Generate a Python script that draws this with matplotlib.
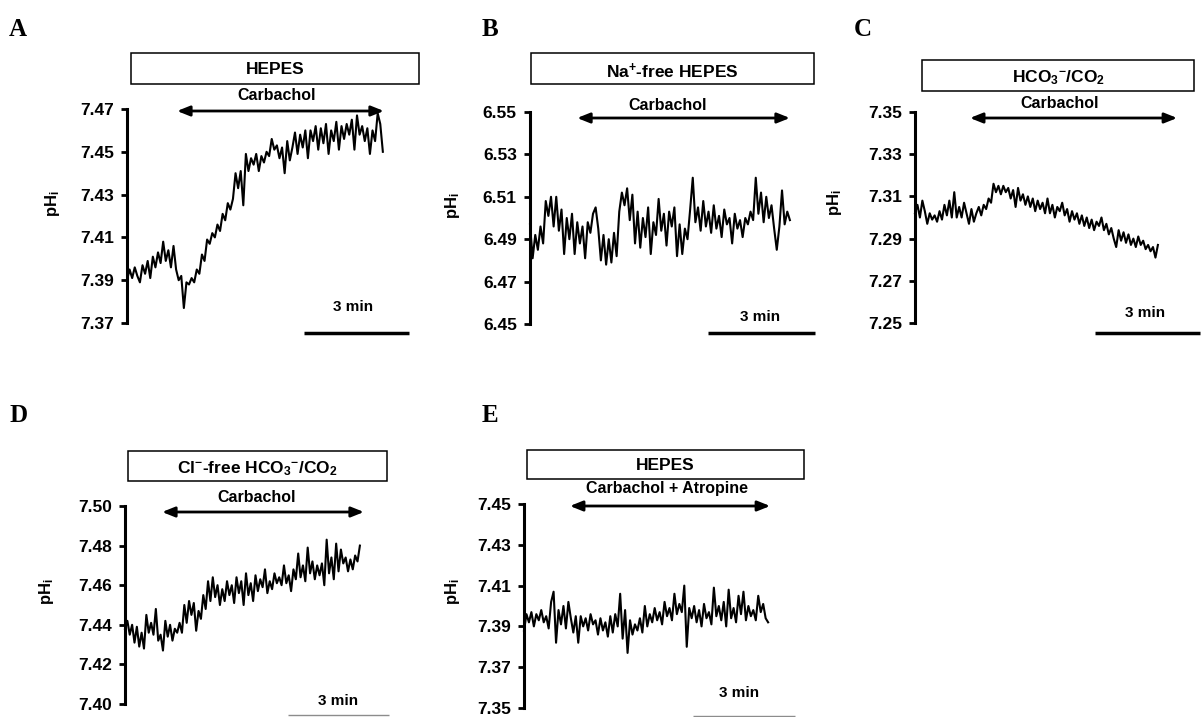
import numpy as np
import matplotlib
matplotlib.use("Agg")
import matplotlib.pyplot as plt
from matplotlib.patches import Rectangle
from matplotlib.transforms import blended_transform_factory

plt.rcParams['font.family'] = ['Liberation Sans', 'DejaVu Sans']
plt.rcParams['font.weight'] = 'bold'
plt.rcParams['mathtext.fontset'] = 'custom'
plt.rcParams['mathtext.rm'] = 'Liberation Sans:bold'
plt.rcParams['mathtext.it'] = 'Liberation Sans:bold'
plt.rcParams['mathtext.bf'] = 'Liberation Sans:bold'
plt.rcParams['mathtext.sf'] = 'Liberation Sans:bold'

# --- data (pHi traces, minutes) ---
letters = ['A', 'B', 'C', 'D', 'E']
solutions = ['HEPES', 'Na$^{+}$-free HEPES', 'HCO$_{3}$$^{-}$/CO$_{2}$',
             'Cl$^{-}$-free HCO$_{3}$$^{-}$/CO$_{2}$', 'HEPES']
treatments = ['Carbachol', 'Carbachol', 'Carbachol', 'Carbachol', 'Carbachol + Atropine']

ph_a = [7.390, 7.395, 7.391, 7.396, 7.392, 7.389, 7.397, 7.393, 7.399, 7.391,
        7.401, 7.396, 7.403, 7.398, 7.408, 7.399, 7.404, 7.396, 7.406, 7.395,
        7.390, 7.392, 7.377, 7.389, 7.388, 7.391, 7.389, 7.395, 7.393, 7.402,
        7.399, 7.409, 7.407, 7.412, 7.410, 7.416, 7.413, 7.421, 7.418, 7.426,
        7.423, 7.428, 7.440, 7.433, 7.441, 7.425, 7.449, 7.441, 7.447, 7.444,
        7.449, 7.441, 7.448, 7.445, 7.450, 7.448, 7.456, 7.451, 7.453, 7.447,
        7.452, 7.440, 7.455, 7.446, 7.452, 7.459, 7.449, 7.458, 7.452, 7.460,
        7.447, 7.460, 7.455, 7.462, 7.451, 7.461, 7.454, 7.463, 7.449, 7.460,
        7.455, 7.464, 7.451, 7.462, 7.456, 7.463, 7.458, 7.465, 7.451, 7.467,
        7.458, 7.462, 7.455, 7.461, 7.449, 7.460, 7.455, 7.468, 7.463, 7.450]

ph_b = [6.497, 6.481, 6.492, 6.485, 6.496, 6.488, 6.508, 6.501, 6.510, 6.496,
        6.510, 6.494, 6.504, 6.483, 6.500, 6.490, 6.502, 6.483, 6.498, 6.488,
        6.496, 6.481, 6.498, 6.493, 6.502, 6.505, 6.495, 6.480, 6.492, 6.478,
        6.490, 6.479, 6.493, 6.482, 6.503, 6.512, 6.506, 6.514, 6.499, 6.511,
        6.488, 6.503, 6.486, 6.500, 6.491, 6.505, 6.483, 6.498, 6.492, 6.509,
        6.494, 6.502, 6.487, 6.503, 6.496, 6.505, 6.482, 6.497, 6.483, 6.495,
        6.490, 6.504, 6.519, 6.498, 6.505, 6.494, 6.508, 6.496, 6.503, 6.493,
        6.506, 6.495, 6.501, 6.491, 6.504, 6.497, 6.500, 6.488, 6.502, 6.495,
        6.499, 6.491, 6.500, 6.497, 6.503, 6.499, 6.519, 6.502, 6.512, 6.498,
        6.510, 6.500, 6.506, 6.495, 6.485, 6.496, 6.513, 6.497, 6.503, 6.499]

ph_c = [7.302, 7.306, 7.300, 7.308, 7.303, 7.297, 7.302, 7.299, 7.301, 7.298,
        7.303, 7.299, 7.306, 7.301, 7.308, 7.300, 7.312, 7.300, 7.305, 7.300,
        7.307, 7.302, 7.297, 7.304, 7.298, 7.302, 7.305, 7.301, 7.306, 7.304,
        7.309, 7.307, 7.316, 7.312, 7.315, 7.311, 7.315, 7.312, 7.314, 7.309,
        7.313, 7.305, 7.314, 7.308, 7.311, 7.306, 7.310, 7.305, 7.309, 7.303,
        7.308, 7.304, 7.307, 7.302, 7.309, 7.302, 7.306, 7.300, 7.305, 7.303,
        7.307, 7.301, 7.304, 7.298, 7.303, 7.299, 7.302, 7.297, 7.301, 7.296,
        7.300, 7.295, 7.299, 7.294, 7.298, 7.296, 7.300, 7.294, 7.297, 7.292,
        7.295, 7.290, 7.286, 7.294, 7.289, 7.293, 7.288, 7.292, 7.287, 7.290,
        7.286, 7.291, 7.287, 7.289, 7.285, 7.287, 7.284, 7.286, 7.281, 7.287]

ph_d = [7.438, 7.442, 7.435, 7.440, 7.431, 7.439, 7.429, 7.436, 7.428, 7.445,
        7.436, 7.441, 7.435, 7.448, 7.432, 7.435, 7.427, 7.442, 7.434, 7.440,
        7.432, 7.438, 7.436, 7.441, 7.436, 7.450, 7.441, 7.452, 7.445, 7.451,
        7.437, 7.447, 7.443, 7.455, 7.448, 7.462, 7.452, 7.464, 7.454, 7.460,
        7.450, 7.458, 7.452, 7.462, 7.455, 7.460, 7.451, 7.464, 7.456, 7.462,
        7.450, 7.466, 7.455, 7.461, 7.452, 7.465, 7.457, 7.463, 7.459, 7.468,
        7.456, 7.462, 7.458, 7.466, 7.461, 7.464, 7.460, 7.470, 7.461, 7.465,
        7.457, 7.468, 7.463, 7.476, 7.464, 7.470, 7.462, 7.479, 7.466, 7.472,
        7.463, 7.470, 7.465, 7.471, 7.460, 7.483, 7.466, 7.474, 7.463, 7.481,
        7.467, 7.478, 7.471, 7.474, 7.467, 7.473, 7.468, 7.475, 7.472, 7.480]

ph_e = [7.388, 7.396, 7.392, 7.397, 7.390, 7.396, 7.393, 7.398, 7.392, 7.395,
        7.389, 7.402, 7.407, 7.382, 7.398, 7.391, 7.400, 7.389, 7.402, 7.394,
        7.387, 7.395, 7.382, 7.395, 7.390, 7.394, 7.388, 7.396, 7.391, 7.393,
        7.386, 7.394, 7.388, 7.392, 7.385, 7.395, 7.387, 7.396, 7.390, 7.406,
        7.384, 7.398, 7.377, 7.393, 7.386, 7.391, 7.388, 7.394, 7.387, 7.400,
        7.390, 7.396, 7.392, 7.399, 7.393, 7.397, 7.391, 7.402, 7.395, 7.399,
        7.393, 7.406, 7.396, 7.401, 7.397, 7.410, 7.380, 7.399, 7.394, 7.400,
        7.392, 7.398, 7.390, 7.401, 7.394, 7.397, 7.391, 7.409, 7.395, 7.400,
        7.393, 7.402, 7.390, 7.408, 7.394, 7.399, 7.392, 7.405, 7.396, 7.407,
        7.393, 7.400, 7.395, 7.398, 7.393, 7.405, 7.397, 7.401, 7.394, 7.392]

traces = [ph_a, ph_b, ph_c, ph_d, ph_e]
trace_end = [7.31, 7.28, 6.94, 6.97, 7.18]          # min
drug_on = [1.43, 1.32, 1.57, 1.10, 1.35]            # min
drug_off = [7.34, 7.28, 7.49, 7.09, 7.24]           # min
y_min = [7.37, 6.45, 7.25, 7.40, 7.35]
y_max = [7.47, 6.55, 7.35, 7.50, 7.45]
y_step = [0.02, 0.02, 0.02, 0.02, 0.02]
bar_start = [5.06, 4.99, 5.14, 4.84, 4.97]          # 3-min scale bar
bar_len = 3

# --- layout in pixels ---
W, H = 1201, 717
# axis x, right edge, top tick y, bottom tick y, px per minute
ax_px = [(127, 409, 109, 323, 35.0), (530, 815, 112, 324, 35.7),
         (915, 1201, 112, 323, 35.0), (125, 389, 506, 704, 33.7),
         (524, 795, 504, 708, 34.0)]
box_px = [(131, 53, 419, 84), (531, 53, 814, 84), (922, 60, 1194, 91),
          (128, 451, 387, 481), (527, 450, 804, 479)]
box_txt_px = [(275, 69), (672, 71), (1058, 78), (257.5, 469), (665.5, 465)]
arrow_y = [111, 118, 118, 512, 506]
drug_txt_px = [(277, 95), (668, 106), (1060, 104), (257, 498), (667, 489)]
bar_y = [333, 333, 333, 715, 716]
min_txt_px = [(353, 307), (760, 317), (1145, 313), (338, 701), (739, 693)]
ylab_px = [(52, 204), (453, 206), (835, 203), (47, 592), (452, 592)]
letter_px = [(9, 36), (482, 36), (854, 36), (9, 422), (482, 422)]
thick_bar = [True, True, True, False, False]


def fig_xy(x, y):
    return x / W, 1 - y / H


fig = plt.figure(figsize=(W / 100, H / 100), dpi=100)

for i in range(5):
    x0, x1, ytop, ybot, ppm = ax_px[i]
    ax = fig.add_axes([x0 / W, 1 - ybot / H, (x1 - x0) / W, (ybot - ytop) / H])
    vals = np.array(traces[i])
    t = np.linspace(0, trace_end[i], len(vals))
    ax.plot(t, vals, color='black', lw=1.5, clip_on=False)
    ax.set_xlim(0, (x1 - x0) / ppm)
    ax.set_ylim(y_min[i], y_max[i])
    ticks = np.arange(y_min[i], y_max[i] + y_step[i] / 2, y_step[i])
    ax.set_yticks(ticks)
    ax.set_yticklabels(['%.2f' % v for v in ticks])
    for s in ['top', 'right', 'bottom']:
        ax.spines[s].set_visible(False)
    ax.spines['left'].set_linewidth(2.2)
    ax.set_xticks([])
    ax.tick_params(axis='y', direction='out', length=4.5, width=2.0, pad=5,
                   labelsize=12.5)
    for lab in ax.get_yticklabels():
        lab.set_fontweight('bold')
    ax.patch.set_visible(False)

    tr = blended_transform_factory(ax.transData, fig.transFigure)
    ya = 1 - arrow_y[i] / H
    ax.annotate('', xy=(drug_off[i], ya), xytext=(drug_on[i], ya),
                xycoords=tr, textcoords=tr, annotation_clip=False,
                arrowprops=dict(arrowstyle='<|-|>,head_length=0.75,head_width=0.3',
                                lw=2, color='black', shrinkA=0, shrinkB=0))
    yb = 1 - bar_y[i] / H
    if thick_bar[i]:
        ax.plot([bar_start[i], bar_start[i] + bar_len], [yb, yb], transform=tr,
                color='black', lw=2.5, clip_on=False, solid_capstyle='butt')
    else:
        ax.plot([bar_start[i], bar_start[i] + bar_len], [yb, yb], transform=tr,
                color='#8c8c8c', lw=1.0, clip_on=False, solid_capstyle='butt')

    bx0, by0, bx1, by1 = box_px[i]
    fig.patches.append(Rectangle(fig_xy(bx0, by1), (bx1 - bx0) / W, (by1 - by0) / H,
                                 transform=fig.transFigure, fill=False,
                                 edgecolor='black', lw=1.1))
    fig.text(*fig_xy(*box_txt_px[i]), solutions[i], ha='center', va='center',
             fontsize=12.5, fontweight='bold')
    fig.text(*fig_xy(*drug_txt_px[i]), treatments[i], ha='center', va='center',
             fontsize=11.5, fontweight='bold')
    fig.text(*fig_xy(*min_txt_px[i]), '3 min', ha='center', va='center',
             fontsize=11, fontweight='bold')
    fig.text(*fig_xy(*ylab_px[i]), 'pH$_{i}$', ha='center', va='center',
             rotation=90, fontsize=12, fontweight='bold')
    fig.text(*fig_xy(*letter_px[i]), letters[i], ha='left', va='baseline',
             fontsize=18, fontweight='bold', family='Liberation Serif')

fig.savefig('out.png', dpi=100)
